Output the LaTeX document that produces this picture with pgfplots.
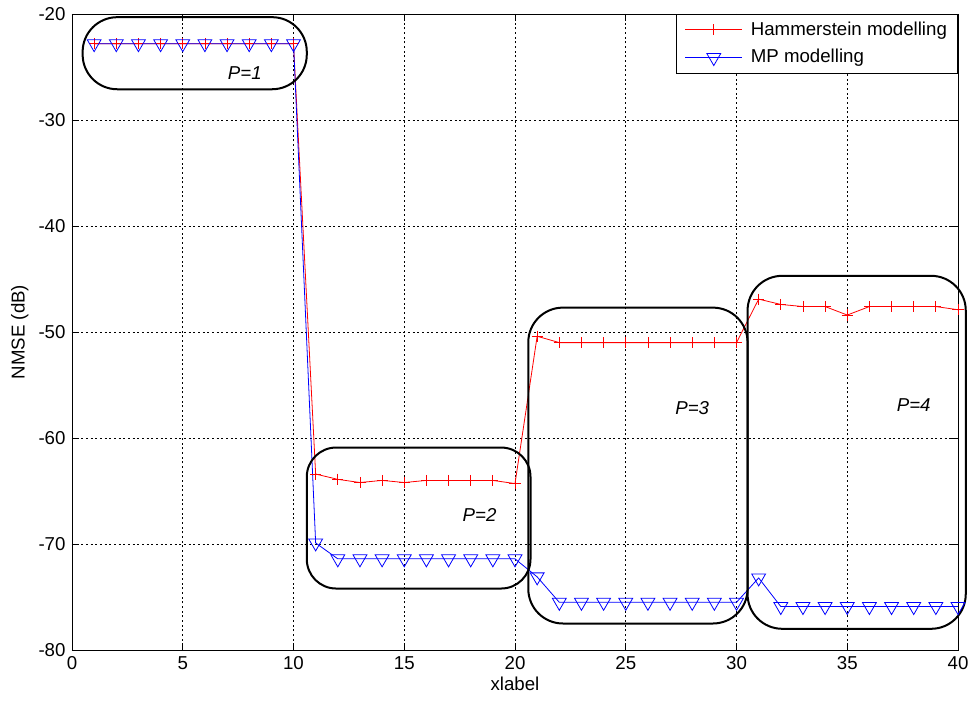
\documentclass[border=0pt]{standalone}
\usepackage{fontspec}
\setmainfont{Liberation Sans}
\usepackage{pgfplots}
\pgfplotsset{compat=1.18}
\usetikzlibrary{calc}

\begin{document}
\fontsize{14}{16.8}\selectfont
\begin{tikzpicture}
\begin{axis}[
  scale only axis,
  width=664.5pt, height=477pt,
  xmin=0, xmax=40, ymin=-80, ymax=-20,
  xtick={0,5,...,40}, ytick={-80,-70,...,-20},
  grid=major,
  grid style={black, dash pattern=on 1.5pt off 2pt, line width=0.4pt},
  major tick length=5pt,
  tick style={black, line width=0.5pt},
  tick align=inside,
  axis line style={black, line width=0.6pt},
  font=\fontsize{14}{16.8}\selectfont,
  /pgf/number format/assume math mode=true,
  xlabel={xlabel}, ylabel={NMSE (dB)},
  xlabel style={yshift=4pt},
  ylabel style={yshift=-2pt},
  legend style={at={(1,1)}, anchor=north east, draw=black, line width=0.6pt,
    font=\fontsize{14}{16.8}\selectfont, row sep=4.5pt, inner xsep=6pt, inner ysep=3.5pt},
  legend cell align=left,
  legend image code/.code={\draw[mark repeat=2,mark phase=2] plot coordinates {(0pt,0pt) (21.5pt,0pt) (43pt,0pt)};},
  clip=false,
]
\addplot[red, line width=0.6pt, mark=+, mark size=4.2pt, mark options={line width=0.6pt}] coordinates {
(1,-22.8) (2,-22.8) (3,-22.8) (4,-22.8) (5,-22.8) (6,-22.8) (7,-22.8) (8,-22.8) (9,-22.8) (10,-22.8)
(11,-63.4) (12,-63.9) (13,-64.2) (14,-64.0) (15,-64.2) (16,-64.0) (17,-64.0) (18,-64.0) (19,-64.0) (20,-64.3)
(21,-50.4) (22,-51.0) (23,-51.0) (24,-51.0) (25,-51.0) (26,-51.0) (27,-51.0) (28,-51.0) (29,-51.0) (30,-51.0)
(31,-46.9) (32,-47.4) (33,-47.6) (34,-47.6) (35,-48.4) (36,-47.6) (37,-47.6) (38,-47.6) (39,-47.6) (40,-47.9)
};
\addlegendentry{\hspace{4pt}Hammerstein modelling}
\addplot[blue, line width=0.6pt, mark=triangle, mark size=6pt, mark options={rotate=180, line width=0.6pt, fill=none}] coordinates {
(1,-22.8) (2,-22.8) (3,-22.8) (4,-22.8) (5,-22.8) (6,-22.8) (7,-22.8) (8,-22.8) (9,-22.8) (10,-22.8)
(11,-69.9) (12,-71.4) (13,-71.4) (14,-71.4) (15,-71.4) (16,-71.4) (17,-71.4) (18,-71.4) (19,-71.4) (20,-71.4)
(21,-73.1) (22,-75.5) (23,-75.5) (24,-75.5) (25,-75.5) (26,-75.5) (27,-75.5) (28,-75.5) (29,-75.5) (30,-75.5)
(31,-73.2) (32,-75.9) (33,-75.9) (34,-75.9) (35,-75.9) (36,-75.9) (37,-75.9) (38,-75.9) (39,-75.9) (40,-75.9)
};
\addlegendentry{\hspace{4pt}MP modelling}

\draw[black, line width=1.5pt, rounded corners=26pt] (axis cs:0.48,-20.3) rectangle (axis cs:10.6,-27.1);
\draw[black, line width=1.5pt, rounded corners=22pt] (axis cs:10.6,-60.9) rectangle (axis cs:20.7,-74.2);
\draw[black, line width=1.5pt, rounded corners=26pt] (axis cs:20.6,-47.7) rectangle (axis cs:30.5,-77.5);
\draw[black, line width=1.5pt, rounded corners=26pt] (axis cs:30.5,-44.7) rectangle (axis cs:40.35,-78.0);

\node[font=\itshape\fontsize{14}{16.8}\selectfont] at (axis cs:7.8,-25.6) {P=1};
\node[font=\itshape\fontsize{14}{16.8}\selectfont] at (axis cs:18.4,-67.3) {P=2};
\node[font=\itshape\fontsize{14}{16.8}\selectfont] at (axis cs:28.0,-57.2) {P=3};
\node[font=\itshape\fontsize{14}{16.8}\selectfont] at (axis cs:38.0,-56.9) {P=4};
\end{axis}
\pgfresetboundingbox
\path ($(current axis.south west)+(-54pt,-37.5pt)$) rectangle ($(current axis.north east)+(7.5pt,10.5pt)$);
\end{tikzpicture}
\end{document}
